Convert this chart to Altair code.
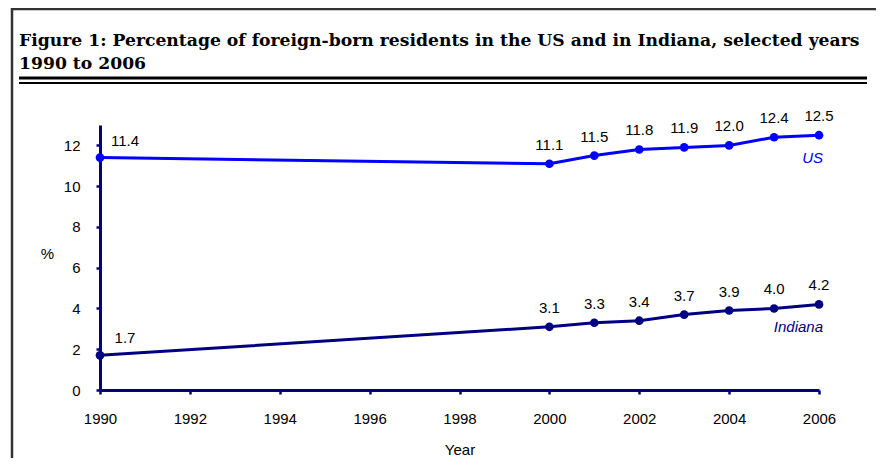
import altair as alt
import pandas as pd

years = [1990, 2000, 2001, 2002, 2003, 2004, 2005, 2006]
us = [11.4, 11.1, 11.5, 11.8, 11.9, 12.0, 12.4, 12.5]
indiana = [1.7, 3.1, 3.3, 3.4, 3.7, 3.9, 4.0, 4.2]
series_names = ["US", "Indiana"]
series_colors = ["#0000FF", "#000080"]
x_ticks = [1990, 1992, 1994, 1996, 1998, 2000, 2002, 2004, 2006]
y_ticks = [0, 2, 4, 6, 8, 10, 12]
title_lines = [
    "Figure 1: Percentage of foreign-born residents in the US and in Indiana, selected years",
    "1990 to 2006",
]

rows = []
for name, vals in zip(series_names, [us, indiana]):
    for y, v in zip(years, vals):
        rows.append({"year": y, "value": v, "series": name})
df = pd.DataFrame(rows)
last = pd.DataFrame({"year": [years[-1], years[-1]], "value": [us[-1], indiana[-1]], "series": series_names})

W, H = 719, 265
NAVY = "#000080"
FS = 15

xenc = alt.X("year:Q", scale=alt.Scale(domain=[1990, 2006], nice=False, zero=False),
             axis=alt.Axis(values=x_ticks, format="d", title="Year", titlePadding=16,
                           labelFlush=False, labelOverlap=False))
yenc = alt.Y("value:Q", scale=alt.Scale(domain=[0, 13], nice=False),
             axis=alt.Axis(values=y_ticks, title="%", titleAngle=0, titleX=-53, titleY=128,
                           titleAlign="center", titleBaseline="middle", labelPadding=16,
                           labelFlush=False))
color = alt.Color("series:N", scale=alt.Scale(domain=series_names, range=series_colors), legend=None)

base = alt.Chart(df)
lines = base.mark_line(strokeWidth=3).encode(x=xenc, y=yenc, color=color)
pts = base.mark_circle(size=75, opacity=1).encode(x="year:Q", y="value:Q", color=color)
lab_main = base.transform_filter("datum.year != 1990").mark_text(
    fontSize=FS, font="Liberation Sans", color="black", dy=-19, baseline="middle"
).encode(x="year:Q", y="value:Q", text=alt.Text("value:Q", format=".1f"))
lab_first = base.transform_filter("datum.year == 1990").mark_text(
    fontSize=FS, font="Liberation Sans", color="black", dx=25, dy=-17, baseline="middle"
).encode(x="year:Q", y="value:Q", text=alt.Text("value:Q", format=".1f"))
ser_lab = alt.Chart(last).mark_text(
    fontSize=FS, font="Liberation Sans", fontStyle="italic", align="right", dx=4, dy=23, baseline="middle"
).encode(x="year:Q", y="value:Q", text="series:N", color=color)

dummy = pd.DataFrame({"a": [0]})
frame_top = alt.Chart(dummy).mark_rule(color="#333333", strokeWidth=2.5).encode(
    x=alt.value(-88), x2=alt.value(800), y=alt.value(-116))
frame_left = alt.Chart(dummy).mark_rule(color="#333333", strokeWidth=2.5).encode(
    x=alt.value(-88), y=alt.value(-117), y2=alt.value(H + 80))
dbl1 = alt.Chart(dummy).mark_rule(color="black", strokeWidth=3).encode(
    x=alt.value(-81), x2=alt.value(767), y=alt.value(-47))
dbl2 = alt.Chart(dummy).mark_rule(color="black", strokeWidth=2).encode(
    x=alt.value(-81), x2=alt.value(767), y=alt.value(-42))
t1 = alt.Chart(dummy).mark_text(font="DejaVu Serif", fontWeight="bold", fontSize=17.2, align="left",
                                baseline="alphabetic", color="black").encode(
    x=alt.value(-81), y=alt.value(-79), text=alt.value(title_lines[0]))
t2 = alt.Chart(dummy).mark_text(font="DejaVu Serif", fontWeight="bold", fontSize=17.2, align="left",
                                baseline="alphabetic", color="black").encode(
    x=alt.value(-81), y=alt.value(-56), text=alt.value(title_lines[1]))

chart = alt.layer(
    frame_top, frame_left, dbl1, dbl2, t1, t2,
    lines, pts, lab_main, lab_first, ser_lab
).properties(
    width=W, height=H,
    autosize=alt.AutoSizeParams(type="none"),
    padding={"left": 92, "top": 117, "right": 57, "bottom": 68},
).configure_axis(
    domainColor=NAVY, domainWidth=3, tickColor=NAVY, tickWidth=2.5, tickSize=4,
    labelFont="Liberation Sans", labelFontSize=FS, labelColor="black",
    titleFont="Liberation Sans", titleFontSize=FS, titleFontWeight="normal", titleColor="black",
    grid=False,
).configure_axisX(labelPadding=17).configure_view(stroke=None)

chart.save("out.html", embed_options={"renderer": "svg", "actions": False})
